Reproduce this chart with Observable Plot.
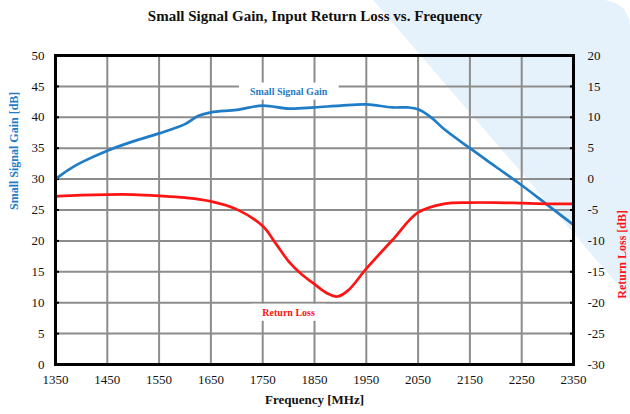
<!DOCTYPE html>
<html>
<head>
<meta charset="utf-8">
<script src="https://cdn.jsdelivr.net/npm/d3@7"></script>
<script src="https://cdn.jsdelivr.net/npm/@observablehq/plot@0.6"></script>
<style>
  html, body { margin: 0; padding: 0; background: #ffffff; }
  #wrap { position: relative; width: 630px; height: 414px; overflow: hidden;
          font-family: "Liberation Serif", "Times New Roman", serif; }
  #bg { position: absolute; left: 0; top: 0; width: 630px; height: 414px; background: #e6f2fb;
        clip-path: polygon(373px 0, 605px 0, 616px 3px, 624px 9px, 629px 18px, 630px 26px, 630px 299px); }
  #title { position: relative; height: 30px; line-height: 32px; text-align: center;
           font-weight: bold; font-size: 15px; color: #111; }
  #chart { position: relative; }
</style>
</head>
<body>
<div id="wrap">
  <div id="bg"></div>
  <div id="title">Small Signal Gain, Input Return Loss vs. Frequency</div>
  <div id="chart"></div>
</div>
<script>
// ---- data ----
const gainFreq = [1350, 1375, 1400, 1450, 1500, 1550, 1600, 1625, 1650, 1700, 1750, 1800, 1850, 1900, 1950, 2000, 2030, 2050, 2075, 2100, 2150, 2200, 2250, 2300, 2350];
const gainDb   = [30.0, 31.5, 32.7, 34.6, 36.1, 37.4, 38.9, 40.2, 40.8, 41.2, 41.9, 41.4, 41.6, 41.9, 42.1, 41.6, 41.6, 41.3, 40.0, 38.1, 35.0, 32.0, 29.0, 25.8, 22.6];

const rlFreq = [1350, 1400, 1450, 1500, 1550, 1600, 1650, 1700, 1750, 1775, 1800, 1825, 1850, 1875, 1894, 1915, 1950, 2000, 2050, 2100, 2150, 2200, 2250, 2300, 2350];
const rlDb   = [-2.8, -2.6, -2.5, -2.5, -2.7, -3.0, -3.6, -4.9, -7.6, -10.4, -13.3, -15.4, -17.0, -18.5, -19.0, -18.0, -14.5, -9.9, -5.4, -4.0, -3.8, -3.8, -3.9, -4.0, -4.0];

const xTicks    = [1350, 1450, 1550, 1650, 1750, 1850, 1950, 2050, 2150, 2250, 2350];
const gainTicks = [0, 5, 10, 15, 20, 25, 30, 35, 40, 45, 50];
const rlTicks   = [-30, -25, -20, -15, -10, -5, 0, 5, 10, 15, 20];
const rlOffset  = 30; // right axis value = left axis value - 30

const seriesLabels = [
  {freq: 1800, value: 44.2, text: "Small Signal Gain", series: "gain"},
  {freq: 1800, value: -21.6, text: "Return Loss", series: "rl"}
];

const blue = "#1f7cc6";
const red  = "#ff1414";

const gainData = gainFreq.map((f, i) => ({freq: f, value: gainDb[i]}));
const rlData   = rlFreq.map((f, i) => ({freq: f, value: rlDb[i]}));

const chart = Plot.plot({
  width: 630,
  height: 384,
  marginTop: 25,
  marginBottom: 50,
  marginLeft: 55,
  marginRight: 57,
  style: {background: "transparent", fontFamily: "'Liberation Serif', 'Times New Roman', serif", fontSize: "13px", color: "#111", overflow: "visible"},
  x: {domain: [1350, 2350]},
  y: {domain: [0, 50]},
  marks: [
    Plot.gridX(xTicks, {stroke: "#8c8c8c", strokeOpacity: 1, strokeWidth: 2}),
    Plot.gridY(gainTicks, {stroke: "#8c8c8c", strokeOpacity: 1, strokeWidth: 2}),
    Plot.axisX(xTicks, {anchor: "bottom", tickSize: 0, tickPadding: 10, label: null, tickFormat: d => String(d), fill: "#111"}),
    Plot.axisY(gainTicks, {anchor: "left", tickSize: -4, tickPadding: 15, label: null, tickFormat: d => String(d), fill: "#111", stroke: "#000", strokeWidth: 2}),
    Plot.axisY(rlTicks.map(v => v + rlOffset), {anchor: "right", tickSize: -4, tickPadding: 18, label: null, tickFormat: d => String(d - rlOffset), fill: "#111", stroke: "#000", strokeWidth: 2}),
    Plot.line(gainData, {x: "freq", y: "value", stroke: blue, strokeWidth: 2.7, curve: "catmull-rom"}),
    Plot.line(rlData, {x: "freq", y: d => d.value + rlOffset, stroke: red, strokeWidth: 2.7, curve: "catmull-rom"}),
    Plot.frame({stroke: "#000", strokeWidth: 3}),
    Plot.text(seriesLabels, {
      x: "freq",
      y: d => d.series === "gain" ? d.value : d.value + rlOffset,
      text: "text",
      fill: d => d.series === "gain" ? blue : red,
      fontWeight: "bold", fontSize: 10,
      className: "series-label"
    }),
    Plot.text(["Frequency [MHz]"], {frameAnchor: "bottom", dy: 39, text: d => d, fontWeight: "bold", fontSize: 13, fill: "#111"}),
    Plot.text(["Small Signal Gain [dB]"], {frameAnchor: "left", dx: -41, rotate: -90, text: d => d, fontWeight: "bold", fontSize: 12, fill: blue}),
    Plot.text(["Return Loss [dB]"], {frameAnchor: "right", dx: 49, rotate: -90, text: d => d, fontWeight: "bold", fontSize: 12, fill: red})
  ]
});
document.getElementById("chart").appendChild(chart);

// white boxes behind the in-plot series labels, sized from the rendered text
const svgNS = "http://www.w3.org/2000/svg";
chart.querySelectorAll("g.series-label text").forEach(t => {
  const b = t.getBBox();
  const r = document.createElementNS(svgNS, "rect");
  r.setAttribute("x", b.x - 11);
  r.setAttribute("y", b.y - 3);
  r.setAttribute("width", b.width + 22);
  r.setAttribute("height", b.height + 6);
  r.setAttribute("fill", "white");
  r.setAttribute("stroke", "none");
  if (t.getAttribute("transform")) r.setAttribute("transform", t.getAttribute("transform"));
  t.parentNode.insertBefore(r, t);
});
</script>
</body>
</html>
